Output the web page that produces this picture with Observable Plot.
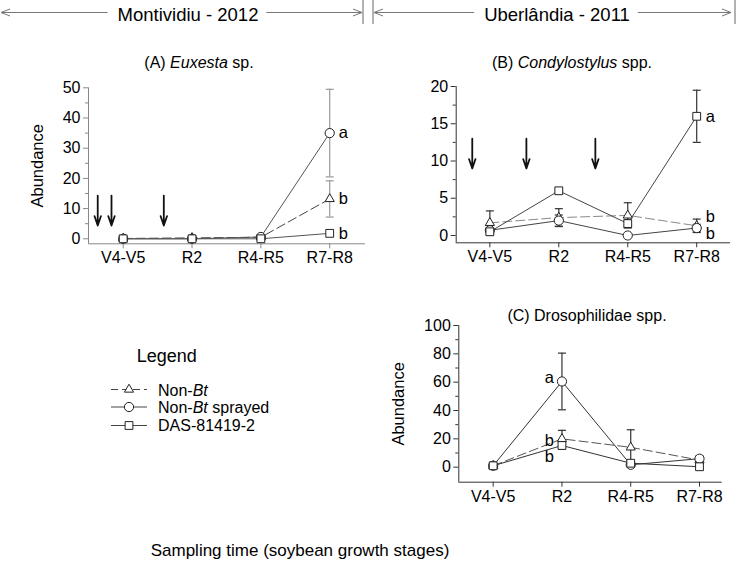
<!DOCTYPE html>
<html>
<head>
<meta charset="utf-8">
<script src="https://cdn.jsdelivr.net/npm/d3@7"></script>
<script src="https://cdn.jsdelivr.net/npm/@observablehq/plot@0.6"></script>
<style>
  body { margin: 0; background: #fff; }
  #fig { position: relative; width: 736px; height: 562px; overflow: hidden;
         font-family: "Liberation Sans", Arial, Helvetica, sans-serif; color: #000; background: #fff; }
  .ttl { position: absolute; white-space: nowrap; transform: translate(-50%, -50%); font-size: 16px; line-height: 1; }
</style>
</head>
<body>
<div id="fig"></div>
<script>
const FONT = '"Liberation Sans", Arial, Helvetica, sans-serif';

// ---------- shared categories ----------
const stages = ["V4-V5", "R2", "R4-R5", "R7-R8"];
const seriesNames = ["Non-Bt", "Non-Bt sprayed", "DAS-81419-2"];
const seriesSymbols = ["triangle", "circle", "square"];
const siteLabels = ["Montividiu - 2012", "Uberlândia - 2011"];
const caption = "Sampling time (soybean growth stages)";

// ---------- Panel A: Euxesta sp. (Montividiu 2012) ----------
const euxNonBt     = [0.1, 0.3, 0.5, 13.2];
const euxNonBtSE   = [0, 0, 0, 6];
const euxSprayed   = [0, 0, 0.6, 35];
const euxSprayedSE = [0, 0, 0, 14.5];
const euxDas       = [0, 0, 0, 1.8];
const euxDasSE     = [0, 0, 0, 0];
const euxArrows    = [0.63, 0.83, 1.59];   // application times, in stage units
const euxArrowY    = [14.3, 4.4];
const euxLetters   = ["a", "b", "b"];
const euxLetterX   = [4, 4, 4];
const euxLetterY   = [35, 13.2, 1.8];
const euxTicks     = [0, 10, 20, 30, 40, 50];
const euxMinor     = [5, 15, 25, 35, 45];

// ---------- Panel B: Condylostylus spp. (Uberlândia 2011) ----------
const conNonBt     = [1.7, 2.4, 2.7, 1.3];
const conNonBtSE   = [1.6, 1.2, 1.7, 0.9];
const conSprayed   = [0.7, 2.0, 0, 1.0];
const conSprayedSE = [0.3, 0.75, 0, 0.5];
const conDas       = [0.5, 6.0, 1.6, 16];
const conDasSE     = [0.3, 0.25, 0.5, 3.5];
const conArrows    = [0.745, 1.53, 2.53];
const conArrowY    = [13, 9];
const conLetters   = ["a", "b", "b"];
const conLetterX   = [4, 4, 4];
const conLetterY   = [16, 2.5, 0.3];
const conTicks     = [0, 5, 10, 15, 20];
const conMinor     = [2.5, 7.5, 12.5, 17.5];

// ---------- Panel C: Drosophilidae spp. (Uberlândia 2011) ----------
const droNonBt     = [1, 20, 14, 5];
const droNonBtSE   = [0, 6, 12.4, 2];
const droSprayed   = [1, 60.5, 1.7, 6];
const droSprayedSE = [0, 20, 1, 2];
const droDas       = [1, 15.3, 2.8, 0.3];
const droDasSE     = [0, 2.5, 1, 0];
const droLetters   = ["a", "b", "b"];
const droLetterX   = [2, 2, 2];
const droLetterY   = [63, 19, 7.5];
const droTicks     = [0, 20, 40, 60, 80, 100];
const droMinor     = [10, 30, 50, 70, 90];

const symbolR = {triangle: 3.4, circle: 4.6, square: 4.4};

function toRows(vals, ses) {
  const rows = [];
  vals.forEach((arr, k) => arr.forEach((v, j) => rows.push({k, series: seriesNames[k], stage: j + 1, value: v, se: ses[k][j]})));
  return rows;
}

const cap = {draw(ctx) { ctx.moveTo(-4, 0); ctx.lineTo(4, 0); }};

function panel(cfg) {
  const rows = toRows(cfg.values, cfg.ses);
  const err = rows.filter(d => d.se > 0);
  const caps = err.flatMap(d => [{stage: d.stage, y: d.value - d.se}, {stage: d.stage, y: d.value + d.se}]);
  const letters = cfg.letters.map((t, i) => ({t, x: cfg.letterX[i], y: cfg.letterY[i]}));
  const marks = [
    Plot.ruleX([cfg.xDomain[0]], {stroke: cfg.axisColor}),
    Plot.ruleY([cfg.yDomain[0]], {stroke: cfg.axisColor}),
    Plot.axisY(cfg.yTicks, {tickSize: 5, tickPadding: 3, stroke: cfg.axisColor, label: null}),
    Plot.axisY(cfg.minor, {tickSize: 3, tickFormat: () => "", stroke: cfg.axisColor, label: null}),
    Plot.axisX([1, 2, 3, 4], {tickSize: 5, tickPadding: 3, tickFormat: i => stages[i - 1], stroke: cfg.axisColor, label: null}),
  ];
  if (cfg.yLabel) marks.push(Plot.text([cfg.yLabel], {frameAnchor: "left", textAnchor: "middle", rotate: -90, dx: cfg.yLabelDx, fontSize: 16.5}));
  [0, 1, 2].forEach(k => marks.push(Plot.line(rows.filter(d => d.k === k), {
    x: "stage", y: "value",
    stroke: k === 0 ? cfg.dashColor : cfg.lineColor, strokeWidth: 1,
    strokeDasharray: k === 0 ? "9,4" : null
  })));
  marks.push(Plot.ruleX(err, {x: "stage", y1: d => d.value - d.se, y2: d => d.value + d.se, stroke: cfg.errColor, strokeWidth: 1.2}));
  marks.push(Plot.dot(caps, {x: "stage", y: "y", symbol: cap, stroke: cfg.errColor, strokeWidth: 1.2, fill: "none"}));
  [0, 1, 2].forEach(k => marks.push(Plot.dot(rows.filter(d => d.k === k), {
    x: "stage", y: "value", symbol: seriesSymbols[k], r: symbolR[seriesSymbols[k]],
    fill: "white", stroke: "#222", strokeWidth: 1
  })));
  if (cfg.arrows) marks.push(Plot.arrow(cfg.arrows, {
    x1: d => d, x2: d => d, y1: cfg.arrowY[0], y2: cfg.arrowY[1],
    stroke: "#111", strokeWidth: 1.8, headLength: 10, headAngle: 38
  }));
  marks.push(Plot.text(letters, {x: "x", y: "y", text: "t", fontSize: 16.5,
    textAnchor: cfg.letterSide === "left" ? "end" : "start", dx: cfg.letterSide === "left" ? -8 : 9}));

  const svg = Plot.plot({
    width: cfg.width, height: cfg.height,
    marginLeft: cfg.m[0], marginRight: cfg.m[1], marginTop: cfg.m[2], marginBottom: cfg.m[3],
    style: {fontFamily: FONT, fontSize: "16px", color: "#000", background: "transparent", overflow: "visible"},
    x: {type: "linear", domain: cfg.xDomain},
    y: {type: "linear", domain: cfg.yDomain},
    marks
  });
  svg.style.position = "absolute";
  svg.style.left = cfg.left + "px";
  svg.style.top = cfg.top + "px";
  svg.style.maxWidth = "none";
  return svg;
}

const fig = document.getElementById("fig");

fig.appendChild(panel({
  left: 0, top: 55, width: 370, height: 220, m: [88, 5, 32.3, 31.7],
  xDomain: [0.496, 4.52], yDomain: [-1.66, 50], yTicks: euxTicks, minor: euxMinor,
  values: [euxNonBt, euxSprayed, euxDas], ses: [euxNonBtSE, euxSprayedSE, euxDasSE],
  axisColor: "#888", lineColor: "#555", dashColor: "#444", errColor: "#999",
  arrows: euxArrows, arrowY: euxArrowY,
  letters: euxLetters, letterX: euxLetterX, letterY: euxLetterY, letterSide: "right",
  yLabel: "Abundance", yLabelDx: -51
}));

fig.appendChild(panel({
  left: 370, top: 55, width: 366, height: 220, m: [85.7, 6, 31, 32.7],
  xDomain: [0.512, 4.49], yDomain: [-0.98, 20], yTicks: conTicks, minor: conMinor,
  values: [conNonBt, conSprayed, conDas], ses: [conNonBtSE, conSprayedSE, conDasSE],
  axisColor: "#333", lineColor: "#444", dashColor: "#888", errColor: "#333",
  arrows: conArrows, arrowY: conArrowY,
  letters: conLetters, letterX: conLetterX, letterY: conLetterY, letterSide: "right"
}));

fig.appendChild(panel({
  left: 370, top: 290, width: 366, height: 230, m: [88.3, 14.3, 35, 38.3],
  xDomain: [0.5, 4.33], yDomain: [-10.6, 100], yTicks: droTicks, minor: droMinor,
  values: [droNonBt, droSprayed, droDas], ses: [droNonBtSE, droSprayedSE, droDasSE],
  axisColor: "#333", lineColor: "#333", dashColor: "#555", errColor: "#333",
  letters: droLetters, letterX: droLetterX, letterY: droLetterY, letterSide: "left",
  yLabel: "Abundance", yLabelDx: -60
}));

// ---------- panel titles ----------
const titles = [
  {html: "(A) <i>Euxesta</i> sp.", x: 199, y: 63},
  {html: "(B) <i>Condylostylus</i> spp.", x: 572, y: 63},
  {html: "(C) Drosophilidae spp.", x: 587, y: 316}
];
titles.forEach(t => {
  const d = document.createElement("div");
  d.className = "ttl";
  d.style.left = t.x + "px"; d.style.top = t.y + "px";
  d.innerHTML = t.html;
  fig.appendChild(d);
});

// ---------- site headers ----------
const hdr = d3.select(fig).append("svg")
  .attr("width", 736).attr("height", 30)
  .style("position", "absolute").style("left", "0px").style("top", "0px")
  .attr("font-family", FONT);
const sites = [
  {label: siteLabels[0], x0: 1, x1: 362, cx: 188},
  {label: siteLabels[1], x0: 374, x1: 731, cx: 557}
];
sites.forEach(s => {
  const t = hdr.append("text").attr("x", s.cx).attr("y", 14).attr("text-anchor", "middle")
    .attr("dominant-baseline", "central").attr("font-size", 18.5).attr("fill", "#000").text(s.label);
  const w = t.node().getComputedTextLength();
  const g = hdr.append("g").attr("stroke", "#777").attr("fill", "none").attr("stroke-width", 1);
  g.append("line").attr("x1", s.x0).attr("x2", s.cx - w / 2 - 10).attr("y1", 12.5).attr("y2", 12.5);
  g.append("line").attr("x1", s.cx + w / 2 + 8).attr("x2", s.x1).attr("y1", 12.5).attr("y2", 12.5);
  g.append("polyline").attr("points", `${s.x0 + 9},9 ${s.x0},12.5 ${s.x0 + 9},16`);
  g.append("polyline").attr("points", `${s.x1 - 9},9 ${s.x1},12.5 ${s.x1 - 9},16`);
});
[363, 373, 735].forEach(x => hdr.append("line").attr("x1", x).attr("x2", x).attr("y1", 0).attr("y2", 24)
  .attr("stroke", "#666"));

// ---------- legend ----------
const leg = d3.select(fig).append("svg")
  .attr("width", 260).attr("height", 110)
  .style("position", "absolute").style("left", "80px").style("top", "335px")
  .attr("font-family", FONT);
leg.append("text").attr("x", 56.7).attr("y", 20.7).attr("dominant-baseline", "central")
  .attr("font-size", 18).text("Legend");
const legY = [54.5, 72, 90.5];
seriesNames.forEach((name, k) => {
  const y = legY[k];
  const g = leg.append("g");
  g.append("line").attr("x1", 31).attr("x2", 67).attr("y1", y).attr("y2", y)
    .attr("stroke", "#444").attr("stroke-dasharray", k === 0 ? "7,4" : null);
  const r = symbolR[seriesSymbols[k]];
  const sym = {triangle: d3.symbolTriangle, circle: d3.symbolCircle, square: d3.symbolSquare}[seriesSymbols[k]];
  g.append("path").attr("d", d3.symbol(sym, Math.PI * r * r)()).attr("transform", `translate(49,${y})`)
    .attr("fill", "white").attr("stroke", "#222");
  const t = g.append("text").attr("x", 78).attr("y", y).attr("dominant-baseline", "central").attr("font-size", 16);
  const parts = name.split("Bt");
  if (parts.length > 1) {
    t.append("tspan").text(parts[0]);
    t.append("tspan").attr("font-style", "italic").text("Bt");
    t.append("tspan").text(parts[1]);
  } else t.text(name);
});

// ---------- caption ----------
const cap2 = document.createElement("div");
cap2.className = "ttl";
cap2.style.fontSize = "17px";
cap2.style.left = "300px"; cap2.style.top = "550px";
cap2.textContent = caption;
fig.appendChild(cap2);
</script>
</body>
</html>
